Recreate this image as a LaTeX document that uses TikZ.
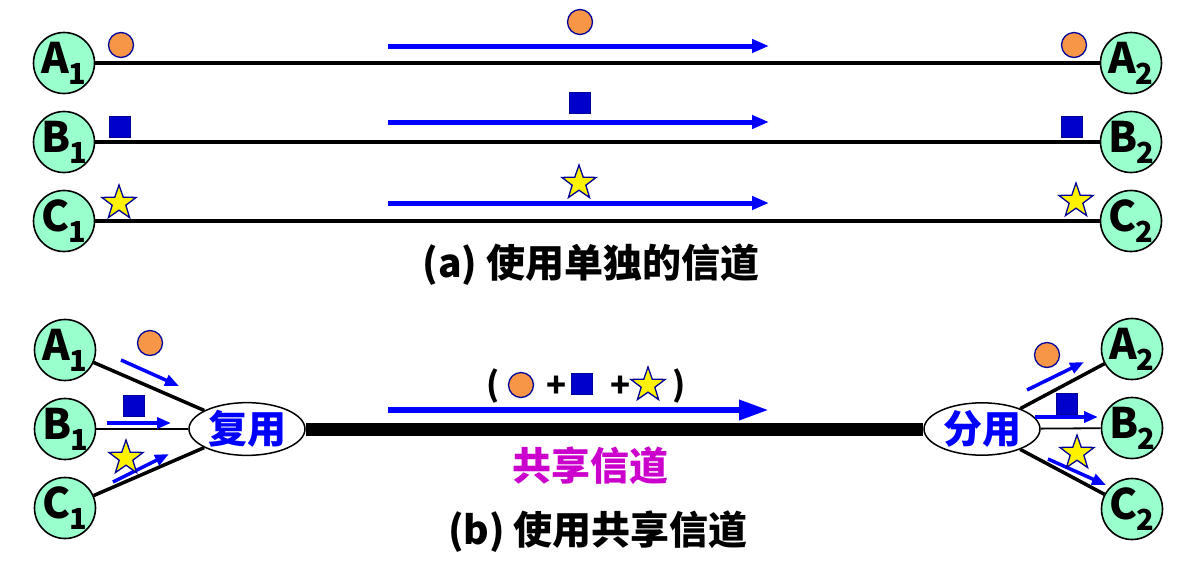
\documentclass[tikz,border=0pt]{standalone}
\usepackage{fontspec}
\setmainfont{Noto Sans CJK SC}
\usetikzlibrary{shapes.geometric,arrows.meta}
\definecolor{mint}{RGB}{153,255,204}
\definecolor{dotc}{RGB}{247,150,70}
\definecolor{navy}{RGB}{0,0,153}
\definecolor{sqc}{RGB}{0,0,204}
\definecolor{magc}{RGB}{204,0,204}
\newcommand{\hostlab}[2]{\bfseries\fontsize{42}{42}\selectfont #1\kern-1pt\raisebox{-11pt}{\fontsize{29}{29}\selectfont #2}}
\begin{document}
\begin{tikzpicture}[x=1pt,y=-1pt,
  host/.style={circle,draw=black,line width=1.6pt,fill=mint,minimum size=61pt,inner sep=0pt},
  dotm/.style={circle,draw=navy,line width=1.3pt,fill=dotc,minimum size=25pt,inner sep=0pt},
  sqm/.style={rectangle,draw=navy,line width=0.8pt,fill=sqc,minimum size=21pt,inner sep=0pt},
  starm/.style={star,star points=5,star point ratio=2.5,draw=navy,line width=1.3pt,fill=yellow,minimum size=36pt,inner sep=0pt},
  flow/.style={blue,line width=5pt,-{Triangle[length=17pt,width=13pt]}},
  bigflow/.style={blue,line width=6.5pt,-{Triangle[length=30pt,width=19pt]}},
  sflow/.style={blue,line width=3.5pt,-{Triangle[length=14pt,width=11pt]}},
  link/.style={line width=3.5pt},
  thin link/.style={line width=1.8pt},
  mux/.style={ellipse,draw=black,line width=1.5pt,fill=white,minimum width=116pt,minimum height=46pt,inner sep=0pt,text=blue,font=\bfseries\fontsize{39}{39}\selectfont},
  caption/.style={font=\bfseries\fontsize{39}{39}\selectfont},
  sym/.style={font=\bfseries\fontsize{33}{33}\selectfont}
]
\useasboundingbox (0,0) rectangle (1182,563);
\fill[white] (0,0) rectangle (1182,563);

% ---------- (a) separate channels ----------
\node[host,label={center:\hostlab{A}{1}}] (A1) at (64,63) {};
\node[host,label={center:\hostlab{B}{1}}] (B1) at (64,142) {};
\node[host,label={center:\hostlab{C}{1}}] (C1) at (64,221) {};
\node[host,label={center:\hostlab{A}{2}}] (A2) at (1131,63) {};
\node[host,label={center:\hostlab{B}{2}}] (B2) at (1131,142) {};
\node[host,label={center:\hostlab{C}{2}}] (C2) at (1131,221) {};
\draw[link] (A1) -- (A2);
\draw[link] (B1) -- (B2);
\draw[link] (C1) -- (C2);

\node[dotm] (da1) at (121,45) {};
\node[dotm] (da2) at (1074,45) {};
\node[dotm] (dam) at (580,22) {};
\node[sqm] (sb1) at (120,127) {};
\node[sqm] (sb2) at (1072,127) {};
\node[sqm] (sbm) at (580,103) {};
\node[starm] (sc1) at (119,203) {};
\node[starm] (sc2) at (1076,201) {};
\node[starm] (scm) at (579,183) {};

\coordinate (fa1) at (388,46);  \coordinate (fa2) at (769,46);
\coordinate (fb1) at (388,122); \coordinate (fb2) at (769,122);
\coordinate (fc1) at (388,203); \coordinate (fc2) at (769,203);
\draw[flow] (fa1) -- (fa2);
\draw[flow] (fb1) -- (fb2);
\draw[flow] (fc1) -- (fc2);

\node[caption] (capa) at (591,265) {(a) 使用单独的信道};

% ---------- (b) shared channel ----------
\node[host,label={center:\hostlab{A}{1}}] (A1b) at (65,350) {};
\node[host,label={center:\hostlab{B}{1}}] (B1b) at (65,429) {};
\node[host,label={center:\hostlab{C}{1}}] (C1b) at (65,508) {};
\node[host,label={center:\hostlab{A}{2}}] (A2b) at (1132,349) {};
\node[host,label={center:\hostlab{B}{2}}] (B2b) at (1132,428) {};
\node[host,label={center:\hostlab{C}{2}}] (C2b) at (1132,509) {};

\node[mux] (mx) at (247,429) {复用};
\node[mux] (dmx) at (982,429) {分用};

\draw[line width=13pt] (mx) -- (dmx);
\draw[link] (A1b) -- (mx);
\draw[thin link] (B1b) -- (mx);
\draw[link] (C1b) -- (mx);
\draw[link] (dmx) -- (A2b);
\draw[thin link] (dmx) -- (B2b);
\draw[link] (dmx) -- (C2b);

% small arrows left
\coordinate (la1) at (121,360); \coordinate (la2) at (179,386);
\coordinate (lb1) at (107,423); \coordinate (lb2) at (171,423);
\coordinate (lc1) at (113,482); \coordinate (lc2) at (169,454);
\draw[sflow] (la1) -- (la2);
\draw[sflow] (lb1) -- (lb2);
\draw[sflow] (lc1) -- (lc2);
% small arrows right
\coordinate (ra1) at (1027,390); \coordinate (ra2) at (1084,362);
\coordinate (rb1) at (1035,417); \coordinate (rb2) at (1098,417);
\coordinate (rc1) at (1048,459); \coordinate (rc2) at (1106,485);
\draw[sflow] (ra1) -- (ra2);
\draw[sflow] (rb1) -- (rb2);
\draw[sflow] (rc1) -- (rc2);

\node[dotm] (dl) at (150,343) {};
\node[sqm] (sl) at (134,406) {};
\node[starm] (stl) at (126,458) {};
\node[dotm] (dr) at (1047,355) {};
\node[sqm] (sr) at (1067,404) {};
\node[starm] (str) at (1077,453) {};

% shared flow
\coordinate (bf1) at (388,410); \coordinate (bf2) at (769,410);
\draw[bigflow] (bf1) -- (bf2);
\node[sym] (lp) at (493,386) {(};
\node[dotm] (dmid) at (521,385) {};
\node[sym] (p1) at (557,387) {+};
\node[sqm] (smid) at (582,384) {};
\node[sym] (p2) at (621,387) {+};
\node[starm] (stmid) at (648,385) {};
\node[sym] (rp) at (679,386) {)};

\node[font=\bfseries\fontsize{39}{39}\selectfont,text=magc] (shared) at (590,466) {共享信道};
\node[caption] (capb) at (598,532) {(b) 使用共享信道};
\end{tikzpicture}
\end{document}
